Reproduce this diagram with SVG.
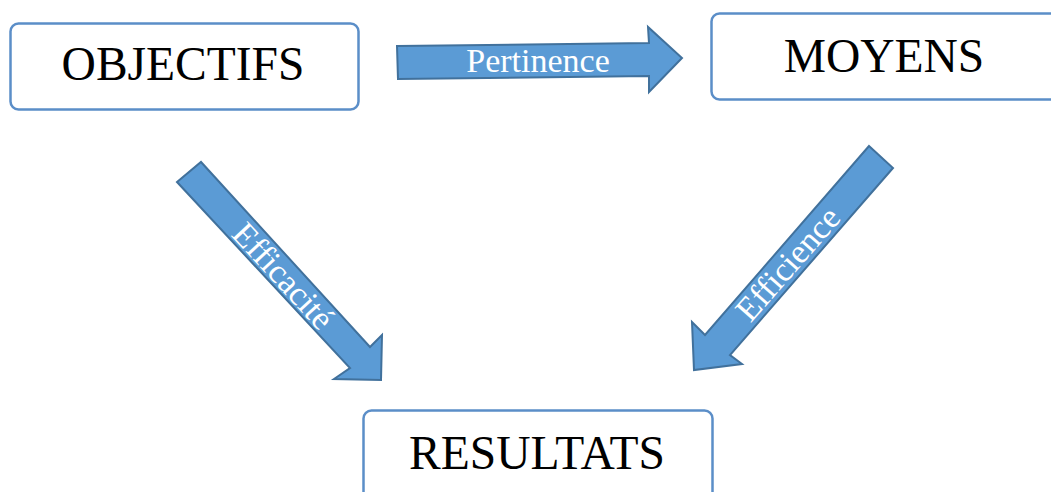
<svg xmlns="http://www.w3.org/2000/svg" width="1051" height="492" viewBox="0 0 1051 492">
<style>
.box{fill:#fff;stroke:#5b8ec8;stroke-width:2.5}
.lbl{font-family:"Liberation Serif","Times New Roman",serif;font-size:47.5px;fill:#000;text-anchor:middle}
.arr{fill:#5b9bd5;stroke:#41719c;stroke-width:2;stroke-linejoin:miter}
.al{font-family:"Liberation Serif","Times New Roman",serif;font-size:34px;fill:#fff;text-anchor:middle}
</style>
<rect width="1051" height="492" fill="#fff"/>
<g id="objectifs">
<rect class="box" x="10.5" y="23.5" width="348" height="86" rx="8"/>
<text class="lbl" x="183" y="80">OBJECTIFS</text>
</g>
<g id="moyens">
<rect class="box" x="711.5" y="13.5" width="370" height="86" rx="8"/>
<text class="lbl" x="884" y="72">MOYENS</text>
</g>
<g id="resultats">
<rect class="box" x="363.5" y="410.5" width="349" height="110" rx="8"/>
<text class="lbl" x="537" y="469">RESULTATS</text>
</g>
<g id="connectors">
<g id="pertinence">
<polygon class="arr" points="397,46 649,43 648,27 682,58 649,92 649,76 398,79"/>
<text class="al" x="538" y="72">Pertinence</text>
</g>
<g id="efficacite">
<polygon class="arr" points="177,182 201,162 370,347 382,335 381,380 334,379 350,368"/>
<text class="al" transform="translate(283,276) rotate(47.3)" y="11">Efficacité</text>
</g>
<g id="efficience">
<polygon class="arr" points="869,146 893,168 730,355 742,364 694,370 692,322 705,335"/>
<text class="al" transform="translate(788,264) rotate(-48.8)" y="11">Efficience</text>
</g>
</g>
</svg>
